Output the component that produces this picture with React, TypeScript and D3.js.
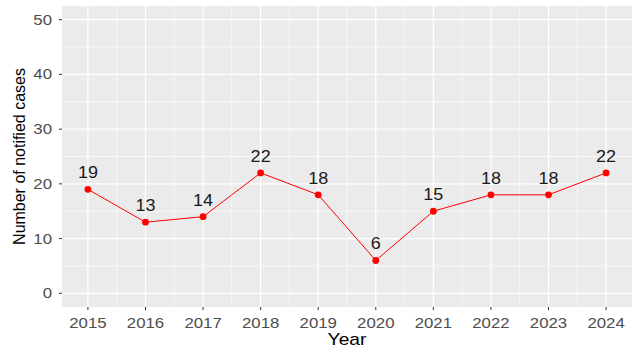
import React from 'react';
import * as d3 from 'd3';

const years = [2015, 2016, 2017, 2018, 2019, 2020, 2021, 2022, 2023, 2024];
const cases = [19, 13, 14, 22, 18, 6, 15, 18, 18, 22];
const yTicks = [0, 10, 20, 30, 40, 50];
const yMinor = [5, 15, 25, 35, 45];

const W = 642;
const H = 354;
const margin = { top: 6, right: 10, bottom: 47, left: 62 };
const SX = 1.2; // horizontal stretch of the text in the original

const App: React.FC = () => {
  const x0 = margin.left;
  const x1 = W - margin.right;
  const y0 = H - margin.bottom;
  const y1 = margin.top;

  // ggplot-style 5% expansion
  const xScale = d3.scaleLinear().domain([2015 - 0.45, 2024 + 0.45]).range([x0, x1]);
  const yScale = d3.scaleLinear().domain([-2.5, 52.5]).range([y0, y1]);
  const xMinor = years.slice(0, -1).map(v => v + 0.5);

  const line = d3.line<number>()
    .x((d, i) => xScale(years[i]))
    .y(d => yScale(d));

  return (
    <svg width={W} height={H} style={{ position: 'absolute', left: 0, top: 0, background: '#fff' }}
      fontFamily="'Liberation Sans', Arial, sans-serif">
      {/* panel */}
      <rect x={x0} y={y1} width={x1 - x0} height={y0 - y1} fill="#EBEBEB" />

      {/* minor grid */}
      {yMinor.map(v => (
        <line key={'ym' + v} x1={x0} x2={x1} y1={yScale(v)} y2={yScale(v)} stroke="#fff" strokeWidth={0.6} />
      ))}
      {xMinor.map(v => (
        <line key={'xm' + v} x1={xScale(v)} x2={xScale(v)} y1={y1} y2={y0} stroke="#fff" strokeWidth={0.6} />
      ))}
      {/* major grid */}
      {yTicks.map(v => (
        <line key={'y' + v} x1={x0} x2={x1} y1={yScale(v)} y2={yScale(v)} stroke="#fff" strokeWidth={1.2} />
      ))}
      {years.map(v => (
        <line key={'x' + v} x1={xScale(v)} x2={xScale(v)} y1={y1} y2={y0} stroke="#fff" strokeWidth={1.2} />
      ))}

      {/* data line + points */}
      <path d={line(cases) || ''} fill="none" stroke="#FF0000" strokeWidth={1} />
      {cases.map((c, i) => (
        <circle key={'p' + i} cx={xScale(years[i])} cy={yScale(c)} r={3.4} fill="#FF0000" />
      ))}

      {/* value labels */}
      {cases.map((c, i) => (
        <text key={'l' + i} transform={`translate(${xScale(years[i])},${yScale(c) - 11}) scale(1.06,1)`}
          textAnchor="middle" fontSize={17} fill="#1a1a1a">{c}</text>
      ))}

      {/* y axis */}
      {yTicks.map(v => (
        <g key={'yt' + v}>
          <line x1={x0 - 3} x2={x0} y1={yScale(v)} y2={yScale(v)} stroke="#333" strokeWidth={1} />
          <text transform={`translate(${x0 - 10},${yScale(v)}) scale(${SX},1)`} dy="0.36em"
            textAnchor="end" fontSize={14} fill="#4D4D4D">{v}</text>
        </g>
      ))}

      {/* x axis */}
      {years.map(v => (
        <g key={'xt' + v}>
          <line x1={xScale(v)} x2={xScale(v)} y1={y0} y2={y0 + 3} stroke="#333" strokeWidth={1} />
          <text transform={`translate(${xScale(v)},${y0 + 21}) scale(${SX},1)`}
            textAnchor="middle" fontSize={14} fill="#4D4D4D">{v}</text>
        </g>
      ))}

      {/* axis titles */}
      <text transform={`translate(${(x0 + x1) / 2},${H - 9}) scale(${SX},1)`} textAnchor="middle"
        fontSize={16} fill="#000">Year</text>
      <text transform={`translate(25,${(y0 + y1) / 2}) rotate(-90) scale(1,1.05)`} textAnchor="middle"
        fontSize={16} fill="#000">Number of notified cases</text>
    </svg>
  );
};

export default App;
